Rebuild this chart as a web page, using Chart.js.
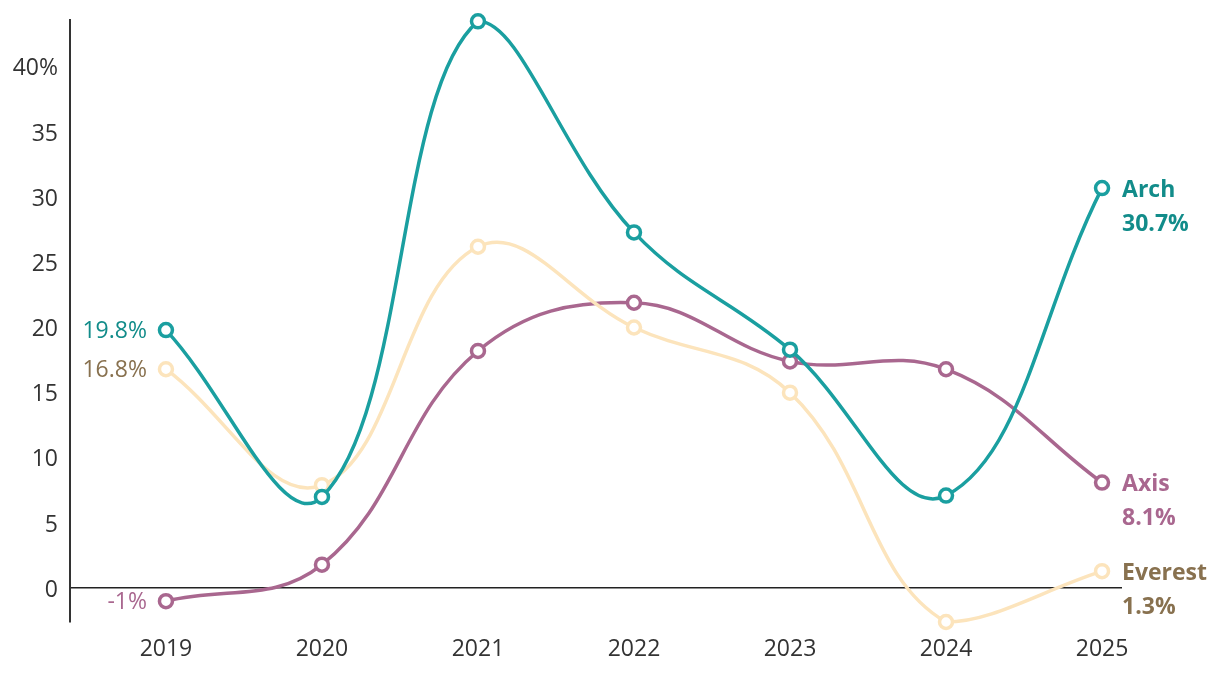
<!DOCTYPE html>
<html>
<head>
<meta charset="utf-8">
<script src="https://cdn.jsdelivr.net/npm/chart.js@4"></script>
<style>
  html, body { margin: 0; padding: 0; background: #ffffff; }
  #wrap { width: 1220px; height: 678px; position: relative; }
</style>
</head>
<body>
<div id="wrap"><canvas id="growthChart"></canvas></div>
<script>
// ===============================
// DATA
// ===============================

const years = [2019, 2020, 2021, 2022, 2023, 2024, 2025];

const archValues = [19.8, 7.0, 43.5, 27.3, 18.3, 7.1, 30.7];
const everestValues = [16.8, 7.9, 26.2, 20.0, 15.0, -2.6, 1.3];
const axisValues = [-1, 1.8, 18.2, 21.9, 17.4, 16.8, 8.1];

const yTicks = [0, 5, 10, 15, 20, 25, 30, 35, 40];

const FONT = "'Open Sans', 'Noto Sans', sans-serif";

const seriesList = [
    { name: "Arch", values: archValues, line: "#1a9fa0", text: "#128c8a" },
    { name: "Everest", values: everestValues, line: "#fce4bc", text: "#88714f" },
    { name: "Axis", values: axisValues, line: "#a9678f", text: "#a9678f" }
];

function pct(v) {
    return (Math.round(v * 10) / 10) + "%";
}

// labels at both ends of each line
const endLabels = {
    id: "endLabels",
    afterDatasetsDraw(chart) {
        const ctx = chart.ctx;
        ctx.save();
        chart.data.datasets.forEach((ds, i) => {
            const meta = chart.getDatasetMeta(i);
            const first = meta.data[0];
            const last = meta.data[meta.data.length - 1];

            // start value
            ctx.font = "23px " + FONT;
            ctx.fillStyle = ds.textColor;
            ctx.textAlign = "right";
            ctx.textBaseline = "middle";
            ctx.fillText(pct(ds.data[0].y), first.x - 19, first.y + 1);

            // end name + value
            ctx.font = "bold 23px " + FONT;
            ctx.textAlign = "left";
            ctx.fillText(ds.label, last.x + 20, last.y + 2);
            ctx.fillText(pct(ds.data[ds.data.length - 1].y), last.x + 20, last.y + 36);
        });
        ctx.restore();
    }
};

document.addEventListener("DOMContentLoaded", () => {

    const canvas = document.getElementById("growthChart");

    new Chart(canvas.getContext("2d"), {

        type: "line",

        data: {
            datasets: seriesList.map(s => ({
                label: s.name,
                data: years.map((y, i) => ({ x: y, y: s.values[i] })),
                borderColor: s.line,
                textColor: s.text,
                borderWidth: 3.5,
                tension: 0.4,
                fill: false,
                clip: false,
                pointRadius: 6.5,
                pointBorderWidth: 3.5,
                pointBackgroundColor: "#ffffff",
                pointBorderColor: s.line
            }))
        },

        options: {
            responsive: true,
            maintainAspectRatio: false,
            animation: false,
            layout: {
                padding: { top: 20, right: 98, left: 0, bottom: 0 }
            },
            plugins: {
                legend: { display: false },
                tooltip: { enabled: false }
            },
            scales: {
                x: {
                    type: "linear",
                    min: 2018.385,
                    max: 2025.128,
                    afterBuildTicks: axis => {
                        axis.ticks = years.map(v => ({ value: v }));
                    },
                    afterFit: axis => {
                        axis.height = 56;
                        axis.paddingLeft = 0;
                        axis.paddingRight = 0;
                    },
                    border: { display: false },
                    grid: { display: false, drawTicks: false },
                    ticks: {
                        padding: 14,
                        color: "#333333",
                        font: { family: FONT, size: 23 },
                        callback: v => String(v)
                    }
                },
                y: {
                    min: -2.6,
                    max: 43.6,
                    afterBuildTicks: axis => {
                        axis.ticks = yTicks.map(v => ({ value: v }));
                    },
                    afterFit: axis => {
                        axis.width = 70;
                        axis.paddingTop = 0;
                        axis.paddingBottom = 0;
                    },
                    border: { display: true, color: "#333333", width: 2 },
                    grid: {
                        drawTicks: false,
                        lineWidth: 1.5,
                        color: c => (c.tick && c.tick.value === 0 ? "#222222" : "rgba(0,0,0,0)")
                    },
                    ticks: {
                        padding: 12,
                        labelOffset: 2,
                        color: "#333333",
                        font: { family: FONT, size: 23 },
                        callback: v => (v === 40 ? "40%" : String(v))
                    }
                }
            }
        },

        plugins: [endLabels]
    });
});
</script>
</body>
</html>
